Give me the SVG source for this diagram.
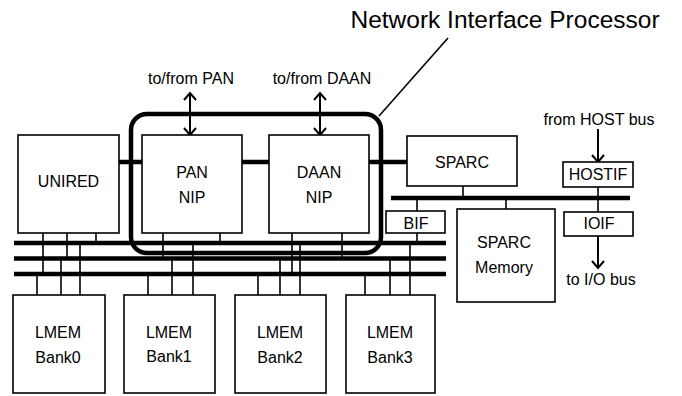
<svg xmlns="http://www.w3.org/2000/svg" width="682" height="396" viewBox="0 0 682 396">
  <style>
    text { font-family: "Liberation Sans", Arial, Helvetica, sans-serif; font-size: 16px; fill: #000; text-anchor: middle; }
    .box { fill: #fff; stroke: #000; stroke-width: 1.6; }
    .bus { stroke: #000; stroke-width: 4.5; fill: none; stroke-linecap: butt; }
    .tap { stroke: #000; stroke-width: 1.6; fill: none; }
    .arrow { stroke: #000; stroke-width: 2; fill: none; }
    .title { font-size: 24.5px; }
  </style>
  <defs>
    <marker id="vhead" viewBox="-9 -8 11 16" refX="0" refY="0" markerWidth="11" markerHeight="16" markerUnits="userSpaceOnUse" orient="auto-start-reverse">
      <path d="M-7,-6 L0,0 L-7,6" fill="none" stroke="#000" stroke-width="2"/>
    </marker>
  </defs>

  <rect width="682" height="396" fill="#fff"/>

  <!-- buses, taps and arrows -->
  <g id="connectors">
    <!-- three shared memory buses -->
    <line class="bus" x1="14" y1="243" x2="446" y2="243"/>
    <line class="bus" x1="14" y1="258.5" x2="446" y2="258.5"/>
    <line class="bus" x1="14" y1="274" x2="446" y2="274"/>
    <!-- processor link -->
    <line class="bus" x1="119" y1="162" x2="407" y2="162"/>
    <!-- SPARC local bus -->
    <line class="bus" x1="391" y1="198" x2="630" y2="198"/>

    <!-- UNIRED taps -->
    <line class="tap" x1="43" y1="233" x2="43" y2="274"/>
    <line class="tap" x1="67" y1="233" x2="67" y2="258"/>
    <line class="tap" x1="96" y1="233" x2="96" y2="243"/>
    <!-- PAN NIP taps -->
    <line class="tap" x1="163" y1="233" x2="163" y2="258"/>
    <line class="tap" x1="220" y1="233" x2="220" y2="243"/>
    <!-- DAAN NIP taps -->
    <line class="tap" x1="292" y1="233" x2="292" y2="274"/>
    <line class="tap" x1="342" y1="233" x2="342" y2="258"/>
    <!-- BIF taps -->
    <line class="tap" x1="417" y1="233" x2="417" y2="243"/>
    <line class="tap" x1="417" y1="198" x2="417" y2="211"/>
    <!-- LMEM bank taps -->
    <line class="tap" x1="37" y1="274" x2="37" y2="295"/>
    <line class="tap" x1="61" y1="258" x2="61" y2="295"/>
    <line class="tap" x1="80" y1="243" x2="80" y2="295"/>
    <line class="tap" x1="148" y1="274" x2="148" y2="295"/>
    <line class="tap" x1="172" y1="258" x2="172" y2="295"/>
    <line class="tap" x1="193" y1="243" x2="193" y2="295"/>
    <line class="tap" x1="258" y1="274" x2="258" y2="295"/>
    <line class="tap" x1="280" y1="258" x2="280" y2="295"/>
    <line class="tap" x1="300" y1="243" x2="300" y2="295"/>
    <line class="tap" x1="365" y1="274" x2="365" y2="295"/>
    <line class="tap" x1="390" y1="258" x2="390" y2="295"/>
    <line class="tap" x1="410" y1="243" x2="410" y2="295"/>
    <!-- SPARC side taps -->
    <line class="tap" x1="463" y1="186" x2="463" y2="198"/>
    <line class="tap" x1="506" y1="198" x2="506" y2="209"/>
    <line class="tap" x1="598" y1="187" x2="598" y2="212"/>

    <!-- external links -->
    <line class="arrow" x1="190" y1="93" x2="190" y2="135" marker-start="url(#vhead)" marker-end="url(#vhead)"/>
    <line class="arrow" x1="320" y1="93" x2="320" y2="135" marker-start="url(#vhead)" marker-end="url(#vhead)"/>
    <line class="arrow" x1="598" y1="129" x2="598" y2="162" marker-end="url(#vhead)"/>
    <line class="arrow" x1="598" y1="236" x2="598" y2="268" marker-end="url(#vhead)"/>

    <!-- callout leader -->
    <line class="tap" x1="448" y1="38" x2="379" y2="116"/>
  </g>

  <!-- Network Interface Processor outline -->
  <g id="nip-group">
    <rect x="131" y="114" width="250" height="139" rx="16" ry="16" fill="none" stroke="#000" stroke-width="4.5"/>
    <text class="title" x="505" y="28">Network Interface Processor</text>
  </g>

  <g id="unired">
    <rect class="box" x="18" y="135" width="101" height="98"/>
    <text x="68.5" y="187">UNIRED</text>
  </g>
  <g id="pan-nip">
    <rect class="box" x="142" y="135" width="100" height="98"/>
    <text x="192" y="178">PAN</text>
    <text x="192" y="203">NIP</text>
  </g>
  <g id="daan-nip">
    <rect class="box" x="269" y="135" width="100" height="98"/>
    <text x="319" y="178">DAAN</text>
    <text x="319" y="203">NIP</text>
  </g>
  <g id="sparc">
    <rect class="box" x="407" y="136" width="110" height="50"/>
    <text x="462" y="168">SPARC</text>
  </g>
  <g id="bif">
    <rect class="box" x="386" y="211" width="59" height="22"/>
    <text x="416" y="229">BIF</text>
  </g>
  <g id="sparc-memory">
    <rect class="box" x="457" y="209" width="98" height="93"/>
    <text x="504" y="248">SPARC</text>
    <text x="504" y="273">Memory</text>
  </g>
  <g id="hostif">
    <rect class="box" x="563" y="162" width="70" height="25"/>
    <text x="598" y="180">HOSTIF</text>
  </g>
  <g id="ioif">
    <rect class="box" x="564" y="212" width="69" height="24"/>
    <text x="599" y="229">IOIF</text>
  </g>

  <g id="lmem0">
    <rect class="box" x="13" y="295" width="92" height="98"/>
    <text x="58" y="338">LMEM</text>
    <text x="58" y="363">Bank0</text>
  </g>
  <g id="lmem1">
    <rect class="box" x="124" y="295" width="91" height="98"/>
    <text x="169" y="338">LMEM</text>
    <text x="169" y="362">Bank1</text>
  </g>
  <g id="lmem2">
    <rect class="box" x="235" y="295" width="91" height="98"/>
    <text x="280" y="338">LMEM</text>
    <text x="280" y="363">Bank2</text>
  </g>
  <g id="lmem3">
    <rect class="box" x="346" y="295" width="89" height="98"/>
    <text x="390" y="338">LMEM</text>
    <text x="390" y="363">Bank3</text>
  </g>

  <g id="labels">
    <text x="191" y="84">to/from PAN</text>
    <text x="322" y="84">to/from DAAN</text>
    <text x="599" y="125">from HOST bus</text>
    <text x="601" y="285">to I/O bus</text>
  </g>
</svg>
